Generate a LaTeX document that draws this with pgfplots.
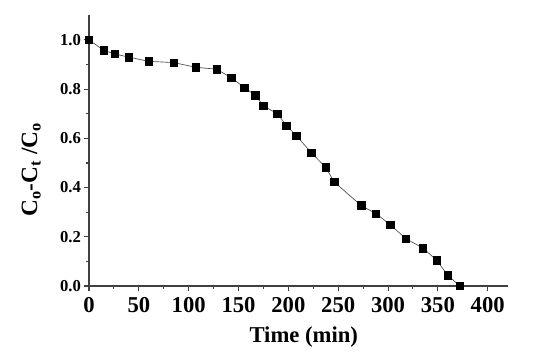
\documentclass[border=0pt]{standalone}
\usepackage{pgfplots}
\pgfplotsset{compat=1.18}
\usepackage{fontspec}
\setmainfont{Liberation Serif}
\begin{document}
\begin{tikzpicture}
\path[use as bounding box] (-66.75pt,-55.5pt) rectangle (345.75pt,214.5pt);
\begin{axis}[
  at={(0pt,0pt)}, anchor=south west,
  scale only axis, width=314pt, height=203pt,
  xmin=0, xmax=420, ymin=0, ymax=1.1,
  axis lines*=left,
  axis line style={line width=0.8pt, black!75},
  tick style={line width=0.8pt, black!75},
  tick align=outside, xtick pos=bottom, ytick pos=left,
  major tick length=4pt, minor tick length=2.5pt,
  xtick={0,50,...,400}, ytick={0,0.2,...,1.0},
  minor x tick num=1, minor y tick num=1,
  /pgf/number format/assume math mode=true,
  /pgf/number format/fixed, /pgf/number format/fixed zerofill,
  /pgf/number format/precision=1,
  xticklabel style={font=\fontsize{17}{20}\selectfont\bfseries, /pgf/number format/precision=0, /pgf/number format/fixed zerofill=false, yshift=-1pt},
  yticklabel style={font=\fontsize{12.5}{15}\selectfont\bfseries, xshift=1.5pt},
  xlabel={Time (min)},
  xlabel style={font=\fontsize{17}{20}\selectfont\bfseries, at={(axis description cs:0.513,-0.188)}, anchor=center},
  ylabel={C\textsubscript{o}-C\textsubscript{t} /C\textsubscript{o}},
  ylabel style={font=\fontsize{17.5}{20}\selectfont\bfseries, at={(axis description cs:-0.138,0.43)}, anchor=center},
  clip=false,
]
\addplot[black!70, line width=0.5pt, mark=square*, mark size=2.8pt, mark options={fill=black, draw=black, solid}] coordinates {
(0,1.0) (15,0.957) (26,0.943) (40,0.930) (60,0.913) (85,0.908) (107,0.889) (128,0.881)
(143,0.846) (156,0.806) (167,0.775) (175,0.732) (189,0.700) (198,0.652) (208,0.611)
(223,0.542) (237.5,0.482) (246,0.423) (273,0.327) (288,0.294) (302.5,0.248) (318,0.192)
(335,0.154) (349,0.104) (360,0.043) (372,0.0)
};
\end{axis}
\end{tikzpicture}
\end{document}
